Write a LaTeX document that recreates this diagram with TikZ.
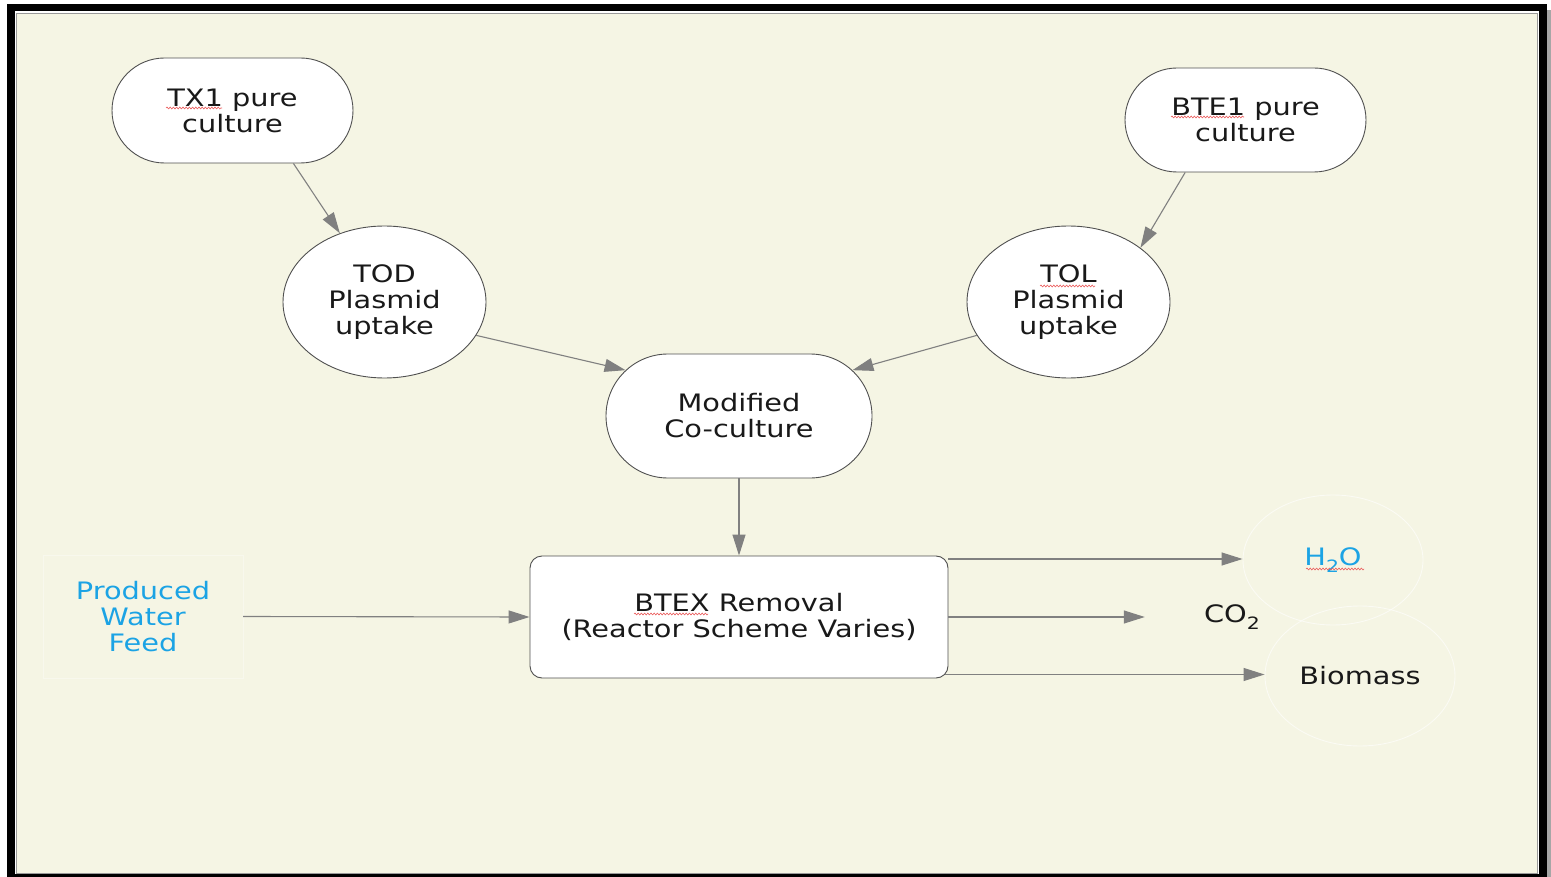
\documentclass[tikz,border=0pt]{standalone}
\usepackage{fontspec}
\setmainfont[FakeStretch=1.2]{DejaVu Sans}
\usetikzlibrary{arrows.meta,shapes.geometric,shapes.misc,decorations.pathmorphing,calc}
\definecolor{cream}{RGB}{245,245,228}
\definecolor{linegray}{RGB}{128,128,128}
\definecolor{edgegray}{RGB}{80,80,80}
\definecolor{inkblack}{RGB}{25,25,25}
\definecolor{feedblue}{RGB}{27,163,228}
\definecolor{spellred}{RGB}{235,90,90}
\tikzset{
  txt/.style={font=\fontsize{24}{26}\selectfont, text=inkblack, align=center, inner sep=0pt},
  pill/.style={txt, rounded rectangle, draw=edgegray, line width=0.9pt, fill=white},
  oval/.style={txt, ellipse, draw=edgegray, line width=0.9pt, fill=white},
  procbox/.style={txt, rectangle, rounded corners=12pt, draw=edgegray, line width=0.9pt, fill=white},
  ghost/.style={txt, draw=white, draw opacity=0.6, line width=0.9pt},
  flow/.style={draw=linegray, line width=1.1pt, -{Triangle[length=21pt, width=13pt, fill=linegray]}},
  squiggle/.style={draw=spellred, line width=0.6pt, decorate, decoration={snake, amplitude=0.9pt, segment length=3.2pt}}
}
\begin{document}
\begin{tikzpicture}[x=1pt, y=-1pt]
  \useasboundingbox (0,0) rectangle (1551,877);
  % frame: black band, drop shadow, cream panel
  \fill[white] (0,0) rectangle (1551,877);
  \fill[gray!70] (1547,10) rectangle (1551,877);
  \fill[black] (7,4) rectangle (1547,877);
  \fill[white] (14.5,11.5) rectangle (1539,873.5);
  \fill[cream, draw=gray!80, line width=0.8pt] (16,13) rectangle (1537,873);

  % culture nodes
  \node[pill, minimum width=241pt, minimum height=105pt] (tx1) at (232.5,110.5) {TX1 pure\\culture};
  \node[pill, minimum width=241pt, minimum height=104pt] (bte1) at (1245.5,120) {BTE1 pure\\culture};
  \node[oval, minimum width=203pt, minimum height=152pt] (tod) at (384.5,302) {TOD\\Plasmid\\uptake};
  \node[oval, minimum width=203pt, minimum height=152pt] (tol) at (1068.5,302) {TOL\\Plasmid\\uptake};
  \node[pill, minimum width=266pt, minimum height=124pt] (mod) at (739,416) {Modified\\Co-culture};

  % reactor and streams
  \node[procbox, minimum width=418pt, minimum height=122pt] (btex) at (739,617) {BTEX Removal\\(Reactor Scheme Varies)};
  \node[txt, text=feedblue, rectangle, draw=white, draw opacity=0.35, minimum width=200pt, minimum height=123pt] (feed) at (143,616.5) {Produced\\Water\\Feed};
  \node[ghost, ellipse, minimum width=180pt, minimum height=130pt] (h2o) at (1333,560)
     {\textcolor{feedblue}{H\raisebox{-0.32em}{\fontsize{17}{17}\selectfont 2}O}};
  \node[txt, minimum width=174pt, minimum height=30pt] (co2) at (1232,617)
     {CO\raisebox{-0.32em}{\fontsize{17}{17}\selectfont 2}};
  \node[ghost, ellipse, minimum width=190pt, minimum height=140pt] (bio) at (1360,676) {Biomass};

  % connectors
  \draw[flow] (tx1.-41) -- (tod.123.6);
  \draw[flow] (bte1.-139.3) -- (tol.37.7);
  \draw[flow] (tod.-20) -- (mod.158);
  \draw[flow] (tol.200.7) -- (mod.22);
  \draw[flow] (mod.south) -- (btex.north);
  \draw[flow] (feed.east) -- (btex.west);
  \draw[flow] ([yshift=1pt]btex.east |- h2o.west) -- ([yshift=1pt]h2o.west);
  \draw[flow] (btex.east |- co2.west) -- (co2.west);
  \draw[flow] ([xshift=-3pt,yshift=1.5pt]btex.east |- bio.west) -- ([yshift=1.5pt]bio.west);

  % spell-check underlines
  \draw[squiggle] (166,108) -- (222,108);
  \draw[squiggle] (1171,117) -- (1244,117);
  \draw[squiggle] (1040,286) -- (1095,286);
  \draw[squiggle] (634,614) -- (708,614);
  \draw[squiggle] (1306,569) -- (1364,569);
\end{tikzpicture}
\end{document}
